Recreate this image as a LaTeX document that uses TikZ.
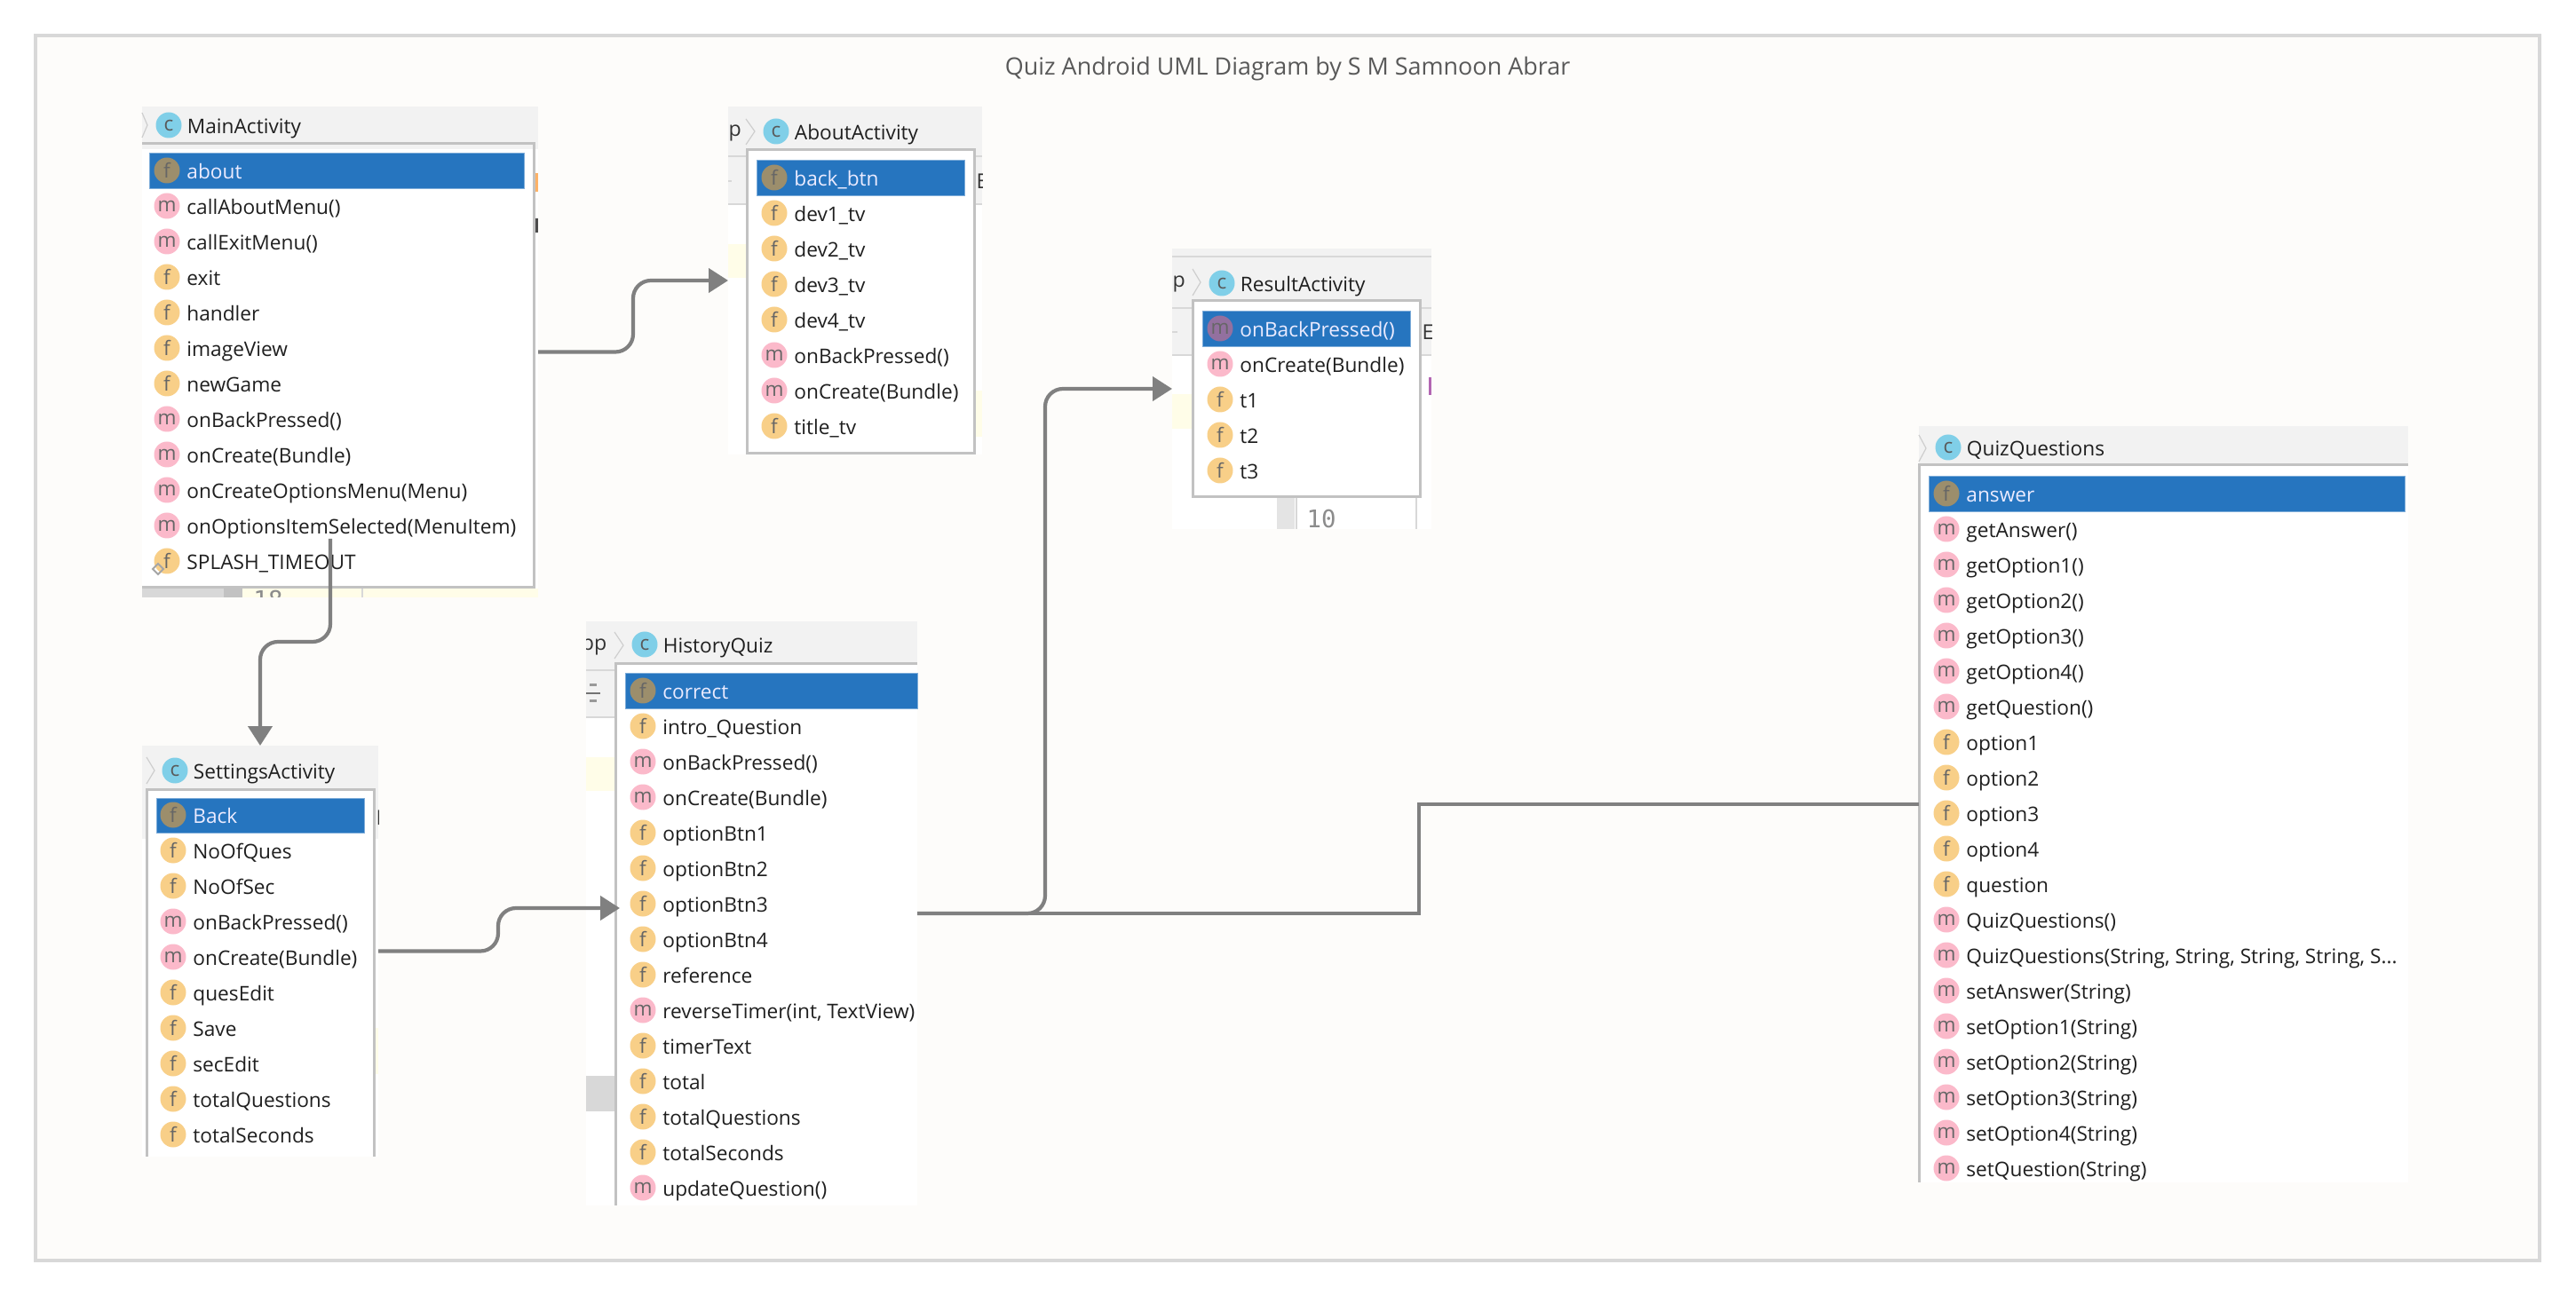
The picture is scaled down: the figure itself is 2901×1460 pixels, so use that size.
\documentclass[tikz,border=0pt]{standalone}
\usepackage{fontspec}
\setsansfont{Open Sans}
\setmonofont{DejaVu Sans Mono}
\usepackage{tikz}
\usetikzlibrary{positioning,arrows.meta}

\definecolor{panelfill}{HTML}{FDFCFA}
\definecolor{panelline}{HTML}{D8D8D8}
\definecolor{headfill}{HTML}{F2F2F2}
\definecolor{listline}{HTML}{C2C2C2}
\definecolor{selblue}{HTML}{2675BF}
\definecolor{fieldfill}{HTML}{F8CF88}
\definecolor{methodfill}{HTML}{FBB9CA}
\definecolor{classfill}{HTML}{80CFE8}
\definecolor{selfield}{HTML}{9C8E6C}
\definecolor{selmethod}{HTML}{93709F}
\definecolor{pale}{HTML}{FFFDE8}
\definecolor{linkgrey}{HTML}{808080}

\tikzset{
  screen/.style={fill=white, inner sep=0pt, outer sep=0pt},
  listedge/.style={draw=listline, line width=0.3mm},
  chevron/.style={draw=listline!80, line width=0.12mm},
  hairline/.style={draw=panelline, line width=0.12mm},
  icon/.style={circle, minimum size=2.9mm, inner sep=0pt, text=black!60,
    font=\sffamily\fontsize{6.4}{7}\selectfont},
  fieldicon/.style={icon, fill=fieldfill},
  methodicon/.style={icon, fill=methodfill},
  classicon/.style={icon, fill=classfill, text=black!65},
  rowtext/.style={inner sep=0pt, text height=2.2mm, text depth=0.3mm, text=black!88,
    font=\sffamily\fontsize{6.45}{8}\selectfont},
  selbar/.style={fill=selblue, draw=selblue!60, line width=0.05mm},
  screentext/.style={inner sep=0pt, text=black!80, font=\sffamily\fontsize{6.6}{8}\selectfont},
  codetext/.style={inner sep=0pt, text=black!45, font=\ttfamily\fontsize{7.8}{9}\selectfont},
  link/.style={draw=linkgrey, line width=0.42mm},
  linkarrow/.style={link, rounded corners=2mm, -{Triangle[length=2.2mm,width=2.7mm]}}
}

\newcommand{\fieldrow}[4]{%
  \node[fieldicon] (#1i) at (#2,#3) {f};
  \node[rowtext, right=0.65mm of #1i] (#1) {#4};}
\newcommand{\methodrow}[4]{%
  \node[methodicon] (#1i) at (#2,#3) {m};
  \node[rowtext, right=0.65mm of #1i] (#1) {#4};}
\newcommand{\selectedrow}[6]{%
  \node[icon, fill=#1] (#3i) at (#4,#5) {#2};
  \node[rowtext, text=blue!8, right=0.65mm of #3i] (#3) {#6};}
\newcommand{\classtitle}[4]{%
  \node[classicon] (#1i) at (#2,#3) {c};
  \node[rowtext, right=0.5mm of #1i] (#1) {#4};}

\begin{document}
\begin{tikzpicture}[x=0.1mm, y=-0.1mm]
  \useasboundingbox (0,0) rectangle (2901,1460);
  % Sfondo e titolo
  \draw[fill=panelfill, draw=panelline, line width=0.4mm] (40,40) rectangle (2860,1420);
  \node[text=black!65, font=\sffamily\fontsize{7.66}{9}\selectfont] (diagramTitle) at (1450,78) {Quiz Android UML Diagram by S M Samnoon Abrar};

  % MainActivity
  \node[screen, minimum width=44.6mm, minimum height=55.3mm] (mainFrame) at (383,396.5) {};
  \fill[headfill] (160,120) rectangle (606,168);
  \fill[pale] (273,663) rectangle (606,673);
  \fill[panelline] (160,663) rectangle (252,673);
  \fill[listline] (252,663) rectangle (273,673);
  \fill[orange!60] (602,195) rectangle (606,216);
  \fill[black!70] (602,246) rectangle (606,262);
  \draw[hairline] (408,663) -- (408,673);
  \begin{scope}
    \clip (160,663) rectangle (606,673);
    \node[codetext, anchor=north] (mainLine) at (302,664) {18};
  \end{scope}
  \draw[chevron] (160,127) -- (166,141) -- (160,155);
  \fill[white] (160,170) rectangle (600,661);
  \draw[listedge] (160,162) -- (601,162) -- (601,662) -- (160,662);
  \fill[selbar] (168,172) rectangle (590,212);
  \classtitle{mainTitle}{190}{141}{MainActivity}
  \selectedrow{selfield}{f}{mainAbout}{188}{192}{about}
  \methodrow{mainCallAbout}{188}{232}{callAboutMenu()}
  \methodrow{mainCallExit}{188}{272}{callExitMenu()}
  \fieldrow{mainExit}{188}{312}{exit}
  \fieldrow{mainHandler}{188}{352}{handler}
  \fieldrow{mainImage}{188}{392}{imageView}
  \fieldrow{mainNewGame}{188}{432}{newGame}
  \methodrow{mainBack}{188}{472}{onBackPressed()}
  \methodrow{mainCreate}{188}{512}{onCreate(Bundle)}
  \methodrow{mainMenu}{188}{552}{onCreateOptionsMenu(Menu)}
  \methodrow{mainItem}{188}{592}{onOptionsItemSelected(MenuItem)}
  \fieldrow{mainSplash}{188}{632}{SPLASH\_TIMEOUT}
  \draw[draw=black!35, line width=0.2mm] (172,641) -- (178,635) -- (184,641) -- (178,647) -- cycle;

  % AboutActivity
  \node[screen, minimum width=28.6mm, minimum height=39.2mm] (aboutFrame) at (963,316) {};
  \fill[headfill] (820,120) rectangle (1106,230);
  \draw[hairline] (820,176) -- (1106,176);
  \draw[hairline] (820,230) -- (1106,230);
  \fill[pale] (820,275) rectangle (841,313);
  \fill[pale] (1097,440) rectangle (1106,492);
  \node[screentext, anchor=west] (aboutPath) at (820,150) {p};
  \draw[hairline] (820,204) -- (824,204);
  \begin{scope}
    \clip (1099,180) rectangle (1106,220);
    \node[screentext, anchor=west] (aboutEdge) at (1099,204) {E};
  \end{scope}
  \draw[chevron] (840,134) -- (850,148) -- (840,163);
  \draw[listedge, fill=white] (841,169) rectangle (1097,511);
  \fill[selbar] (852,180) rectangle (1086,220);
  \classtitle{aboutTitle}{874}{148}{AboutActivity}
  \selectedrow{selfield}{f}{aboutBack}{872}{200}{back\_btn}
  \fieldrow{aboutDevOne}{872}{240}{dev1\_tv}
  \fieldrow{aboutDevTwo}{872}{280}{dev2\_tv}
  \fieldrow{aboutDevThree}{872}{320}{dev3\_tv}
  \fieldrow{aboutDevFour}{872}{360}{dev4\_tv}
  \methodrow{aboutPressed}{872}{400}{onBackPressed()}
  \methodrow{aboutCreate}{872}{440}{onCreate(Bundle)}
  \fieldrow{aboutTitleTv}{872}{480}{title\_tv}

  % ResultActivity
  \node[screen, minimum width=29.2mm, minimum height=31.6mm] (resultFrame) at (1466,438) {};
  \fill[headfill] (1320,280) rectangle (1612,400);
  \draw[hairline] (1320,289) -- (1612,289);
  \draw[hairline] (1320,347) -- (1612,347);
  \draw[hairline] (1320,400) -- (1612,400);
  \fill[pale] (1320,444) rectangle (1343,483);
  \fill[panelline!70] (1438,560) rectangle (1458,596);
  \draw[hairline] (1460,560) -- (1460,596);
  \draw[hairline] (1595,560) -- (1595,596);
  \fill[violet!60] (1609,425) rectangle (1612,445);
  \node[codetext] (resultLine) at (1488,585) {10};
  \node[screentext, anchor=west] (resultPath) at (1320,320) {p};
  \draw[hairline] (1320,374) -- (1326,374);
  \begin{scope}
    \clip (1601,350) rectangle (1612,392);
    \node[screentext, anchor=west] (resultEdge) at (1601,374) {E.};
  \end{scope}
  \draw[chevron] (1343,303) -- (1352,318) -- (1343,333);
  \draw[listedge, fill=white] (1343,339) rectangle (1599,560);
  \fill[selbar] (1354,350) rectangle (1588,390);
  \classtitle{resultTitle}{1376}{319}{ResultActivity}
  \selectedrow{selmethod}{m}{resultBack}{1374}{370}{onBackPressed()}
  \methodrow{resultCreate}{1374}{410}{onCreate(Bundle)}
  \fieldrow{resultOne}{1374}{450}{t1}
  \fieldrow{resultTwo}{1374}{490}{t2}
  \fieldrow{resultThree}{1374}{530}{t3}

  % SettingsActivity
  \node[screen, minimum width=26.6mm, minimum height=46.3mm] (settingsFrame) at (293,1071.5) {};
  \fill[headfill] (160,840) rectangle (426,945);
  \fill[pale] (422,1158) rectangle (426,1210);
  \begin{scope}
    \clip (423,899) rectangle (426,940);
    \node[screentext, anchor=west] (settingsEdge) at (423,921) {E};
  \end{scope}
  \draw[chevron] (165,853) -- (174,868) -- (165,883);
  \fill[white] (165,889) rectangle (421,1303);
  \draw[listedge] (165,1303) -- (165,889) -- (421,889) -- (421,1303);
  \fill[selbar] (176,899) rectangle (410,938);
  \classtitle{settingsTitle}{197}{868}{SettingsActivity}
  \selectedrow{selfield}{f}{settingsBack}{195}{918}{Back}
  \fieldrow{settingsQues}{195}{958}{NoOfQues}
  \fieldrow{settingsSec}{195}{998}{NoOfSec}
  \methodrow{settingsPressed}{195}{1038}{onBackPressed()}
  \methodrow{settingsCreate}{195}{1078}{onCreate(Bundle)}
  \fieldrow{settingsQuesEdit}{195}{1118}{quesEdit}
  \fieldrow{settingsSave}{195}{1158}{Save}
  \fieldrow{settingsSecEdit}{195}{1198}{secEdit}
  \fieldrow{settingsTotalQ}{195}{1238}{totalQuestions}
  \fieldrow{settingsTotalS}{195}{1278}{totalSeconds}

  % HistoryQuiz
  \node[screen, minimum width=37.3mm, minimum height=65.8mm] (historyFrame) at (846.5,1029) {};
  \fill[headfill] (660,700) rectangle (1033,808);
  \draw[hairline] (660,755) -- (693,755);
  \draw[hairline] (660,808) -- (693,808);
  \draw[draw=black!55, line width=0.15mm] (660,781) -- (676,781);
  \draw[draw=black!40, line width=0.3mm] (664,772) -- (672,772);
  \draw[draw=black!40, line width=0.3mm] (664,790) -- (672,790);
  \fill[pale] (660,853) rectangle (693,891);
  \fill[panelline] (660,1212) rectangle (693,1252);
  \begin{scope}
    \clip (660,700) rectangle (1033,808);
    \node[screentext, anchor=east] (historyPath) at (684,729) {pp};
  \end{scope}
  \draw[chevron] (692,712) -- (702,727) -- (692,742);
  \fill[white] (693,748) rectangle (1033,1358);
  \draw[listedge] (1033,748) -- (693,748) -- (693,1358);
  \fill[selbar] (704,758) rectangle (1033,798);
  \classtitle{historyTitle}{726}{726}{HistoryQuiz}
  \selectedrow{selfield}{f}{historyCorrect}{724}{778}{correct}
  \fieldrow{historyIntro}{724}{818}{intro\_Question}
  \methodrow{historyPressed}{724}{858}{onBackPressed()}
  \methodrow{historyCreate}{724}{898}{onCreate(Bundle)}
  \fieldrow{historyBtnOne}{724}{938}{optionBtn1}
  \fieldrow{historyBtnTwo}{724}{978}{optionBtn2}
  \fieldrow{historyBtnThree}{724}{1018}{optionBtn3}
  \fieldrow{historyBtnFour}{724}{1058}{optionBtn4}
  \fieldrow{historyReference}{724}{1098}{reference}
  \methodrow{historyTimer}{724}{1138}{reverseTimer(int, TextView)}
  \fieldrow{historyTimerText}{724}{1178}{timerText}
  \fieldrow{historyTotal}{724}{1218}{total}
  \fieldrow{historyTotalQ}{724}{1258}{totalQuestions}
  \fieldrow{historyTotalS}{724}{1298}{totalSeconds}
  \methodrow{historyUpdate}{724}{1338}{updateQuestion()}

  % QuizQuestions
  \node[screen, minimum width=55.1mm, minimum height=85.2mm] (quizFrame) at (2436.5,906) {};
  \fill[headfill] (2161,480) rectangle (2712,523);
  \draw[chevron] (2161,490) -- (2169,505) -- (2161,520);
  \draw[listedge] (2712,524) -- (2161,524) -- (2161,1332);
  \fill[selbar] (2172,536) rectangle (2708,576);
  \classtitle{quizTitle}{2194}{504}{QuizQuestions}
  \selectedrow{selfield}{f}{quizAnswer}{2192}{556}{answer}
  \methodrow{quizGetAnswer}{2192}{596}{getAnswer()}
  \methodrow{quizGetOne}{2192}{636}{getOption1()}
  \methodrow{quizGetTwo}{2192}{676}{getOption2()}
  \methodrow{quizGetThree}{2192}{716}{getOption3()}
  \methodrow{quizGetFour}{2192}{756}{getOption4()}
  \methodrow{quizGetQuestion}{2192}{796}{getQuestion()}
  \fieldrow{quizOptOne}{2192}{836}{option1}
  \fieldrow{quizOptTwo}{2192}{876}{option2}
  \fieldrow{quizOptThree}{2192}{916}{option3}
  \fieldrow{quizOptFour}{2192}{956}{option4}
  \fieldrow{quizQuestion}{2192}{996}{question}
  \methodrow{quizCtor}{2192}{1036}{QuizQuestions()}
  \methodrow{quizCtorFull}{2192}{1076}{QuizQuestions(String, String, String, String, S...}
  \methodrow{quizSetAnswer}{2192}{1116}{setAnswer(String)}
  \methodrow{quizSetOne}{2192}{1156}{setOption1(String)}
  \methodrow{quizSetTwo}{2192}{1196}{setOption2(String)}
  \methodrow{quizSetThree}{2192}{1236}{setOption3(String)}
  \methodrow{quizSetFour}{2192}{1276}{setOption4(String)}
  \methodrow{quizSetQuestion}{2192}{1316}{setQuestion(String)}

  % Collegamenti
  \coordinate (mainOut) at (372,607);
  \coordinate (historyIn) at (698,1023);
  \draw[linkarrow] (mainFrame.east) -- ++(107,0) |- (aboutFrame.west);
  \draw[linkarrow] (mainOut) -- (372,723) -| (settingsFrame.north);
  \draw[linkarrow] (settingsFrame.east) -- ++(135,0) |- (historyIn);
  \draw[linkarrow] (historyFrame.east) -- ++(144,0) |- (resultFrame.west);
  \draw[link] (historyFrame.east) -- ++(565,0) |- (quizFrame.west);
\end{tikzpicture}
\end{document}
